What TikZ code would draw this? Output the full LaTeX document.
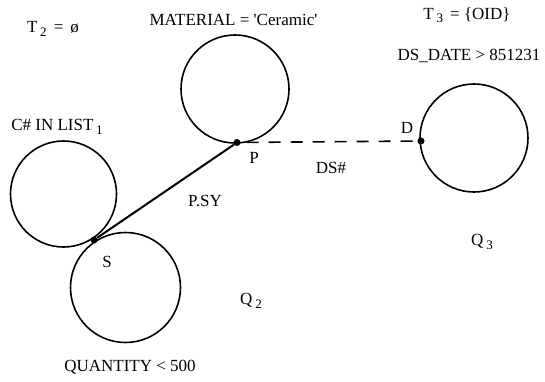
\documentclass[tikz,border=0pt]{standalone}
\usepackage{fontspec}
\setmainfont{Liberation Serif}
\newcommand{\sbs}[1]{\,\raisebox{-0.45ex}{\fontsize{13}{13}\selectfont #1}}
\begin{document}
\begin{tikzpicture}[x=1pt,y=-1pt,
  lbl/.style={inner sep=0pt,font=\fontsize{17}{19}\selectfont},
  ring/.style={circle,draw,line width=1.6pt,inner sep=0pt,minimum size=#1},
  dot/.style={circle,fill,inner sep=0pt,minimum size=7pt},
  link/.style={line width=2pt}]
\useasboundingbox (0,0) rectangle (545,382);
% circles
\node[ring=108pt] (mat) at (235,89) {};
\node[ring=106pt] (clist) at (63.5,194) {};
\node[ring=110pt] (qty) at (125.5,287.5) {};
\node[ring=108pt] (dsd) at (474,138) {};
% join points
\node[dot] (P) at (237,142.5) {};
\node[dot] (S) at (94,240) {};
\node[dot] (D) at (421,141) {};
% connectors
\draw[link] (S) -- (P);
\draw[line width=1.6pt,dash pattern=on 12pt off 10pt,dash phase=-6pt] (P) -- (D);
% labels
\node[lbl] (t2) at (53,29) {T\sbs{2} \,=\, ø};
\node[lbl] (lmat) at (233.5,20) {MATERIAL = \textquotesingle Ceramic\textquotesingle};
\node[lbl] (t3) at (467,15) {T\sbs{3} \,= \{OID\}};
\node[lbl] (ldsd) at (469,56) {DS\_DATE > 851231};
\node[lbl] (lclist) at (57,127) {C\# IN LIST\sbs{1}};
\node[lbl] (lP) at (254,158) {P};
\node[lbl] (lD) at (407,128) {D};
\node[lbl] (lS) at (107,262) {S};
\node[lbl] (ds) at (331,168) {DS\#};
\node[lbl] (psy) at (205,201) {P.SY};
\node[lbl] (q2) at (251,301) {Q\sbs{2}};
\node[lbl] (q3) at (482,242) {Q\sbs{3}};
\node[lbl] (lqty) at (130,367) {QUANTITY < 500};
\end{tikzpicture}
\end{document}
